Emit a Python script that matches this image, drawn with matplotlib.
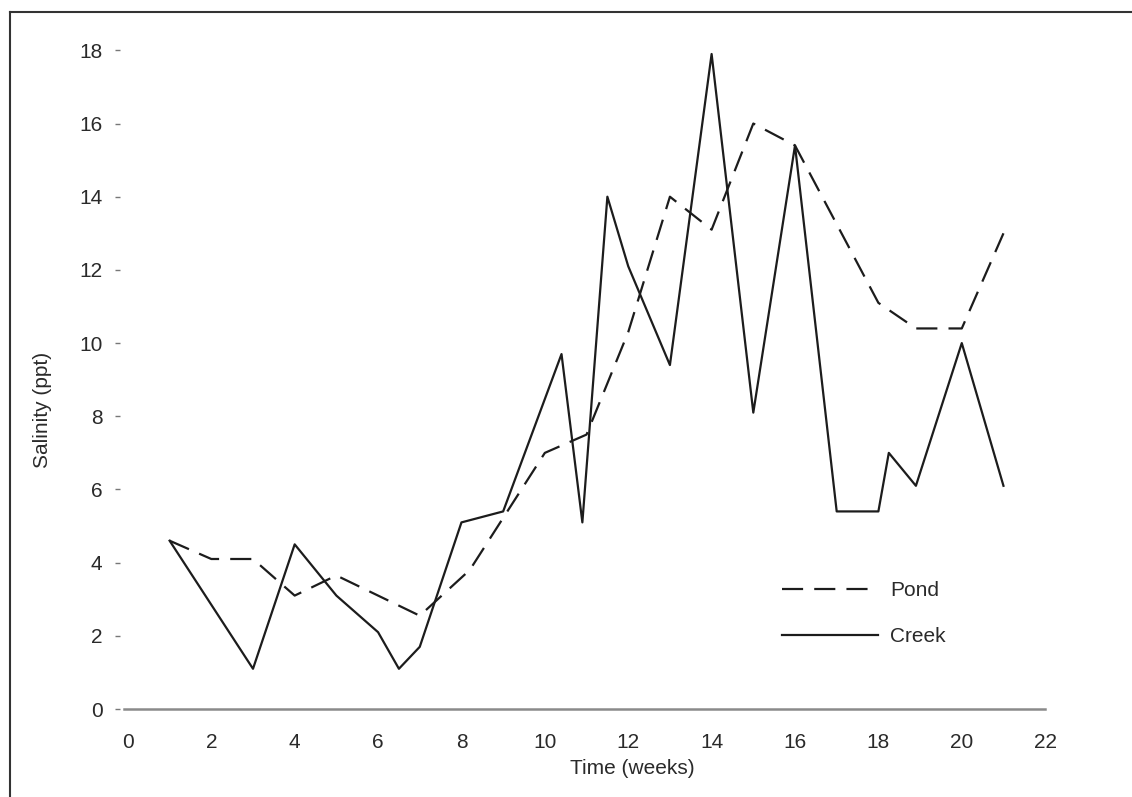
import matplotlib
matplotlib.use('Agg')
import matplotlib.pyplot as plt
from matplotlib.lines import Line2D

# Salinity readings
creek_weeks = [1, 3, 4, 5, 6, 6.5, 7, 8, 9, 10.4, 10.9, 11.5, 12, 13, 14, 15, 16, 17, 18, 18.25, 18.9, 20, 21]
creek_sal = [4.6, 1.1, 4.5, 3.1, 2.1, 1.1, 1.7, 5.1, 5.4, 9.7, 5.1, 14.0, 12.1, 9.4, 17.9, 8.1, 15.4, 5.4, 5.4, 7.0, 6.1, 10.0, 6.1]

pond_weeks = [1, 2, 3, 4, 5, 7, 8.2, 10, 11, 12, 13, 14, 15, 16, 18, 18.9, 20, 21]
pond_sal = [4.6, 4.1, 4.1, 3.1, 3.65, 2.55, 3.8, 7.0, 7.5, 10.3, 14.0, 13.1, 16.0, 15.4, 11.1, 10.4, 10.4, 13.0]

x_ticks = list(range(0, 23, 2))
y_ticks = list(range(0, 19, 2))

plt.rcParams['font.family'] = ['Liberation Sans', 'DejaVu Sans']
ink = '#1c1c1c'
text_col = '#2a2a2a'

fig = plt.figure(figsize=(11.32, 7.97), dpi=100)
ax = fig.add_axes([0.106, 0.0966, 0.8357, 0.8632])

ax.plot(pond_weeks, pond_sal, color=ink, lw=1.6, dashes=(9.5, 5), label='Pond')
ax.plot(creek_weeks, creek_sal, color=ink, lw=1.6, label='Creek')

ax.set_xlim(-0.19, 22.5)
ax.set_ylim(-0.3, 18.5)

for s in ['top', 'right', 'left']:
    ax.spines[s].set_visible(False)
ax.spines['bottom'].set_position(('data', 0))
ax.spines['bottom'].set_bounds(-0.1, 22)
ax.spines['bottom'].set_color('#8a8a8a')
ax.spines['bottom'].set_linewidth(1.8)

ax.set_xticks(x_ticks)
ax.set_yticks(y_ticks)
ax.tick_params(axis='x', length=0, pad=17, labelsize=15, labelcolor=text_col)
ax.tick_params(axis='y', direction='out', length=3.6, width=1, color='#777777',
               pad=9, labelsize=15, labelcolor=text_col)

fig.text(632 / 1132, 1 - 768 / 797, 'Time (weeks)', ha='center', va='center',
         fontsize=15, color=text_col)
fig.text(43 / 1132, 1 - 410 / 797, 'Salinity (ppt)', ha='center', va='center',
         rotation=90, fontsize=15, color=text_col)

leg = ax.legend(loc='upper left', bbox_to_anchor=(782 / 1132, 1 - 581 / 797),
                bbox_transform=fig.transFigure, frameon=False, fontsize=15,
                handlelength=4.6, handletextpad=0.6, labelspacing=1.3,
                borderpad=0, borderaxespad=0)
for t in leg.get_texts():
    t.set_color(text_col)

# scan border (top and left edges)
fig.add_artist(Line2D([10 / 1132, 1], [1 - 12 / 797, 1 - 12 / 797],
                      transform=fig.transFigure, color='#333333', lw=1.5))
fig.add_artist(Line2D([10 / 1132, 10 / 1132], [0, 1 - 12 / 797],
                      transform=fig.transFigure, color='#333333', lw=1.5))

fig.savefig('out.png', dpi=100)
